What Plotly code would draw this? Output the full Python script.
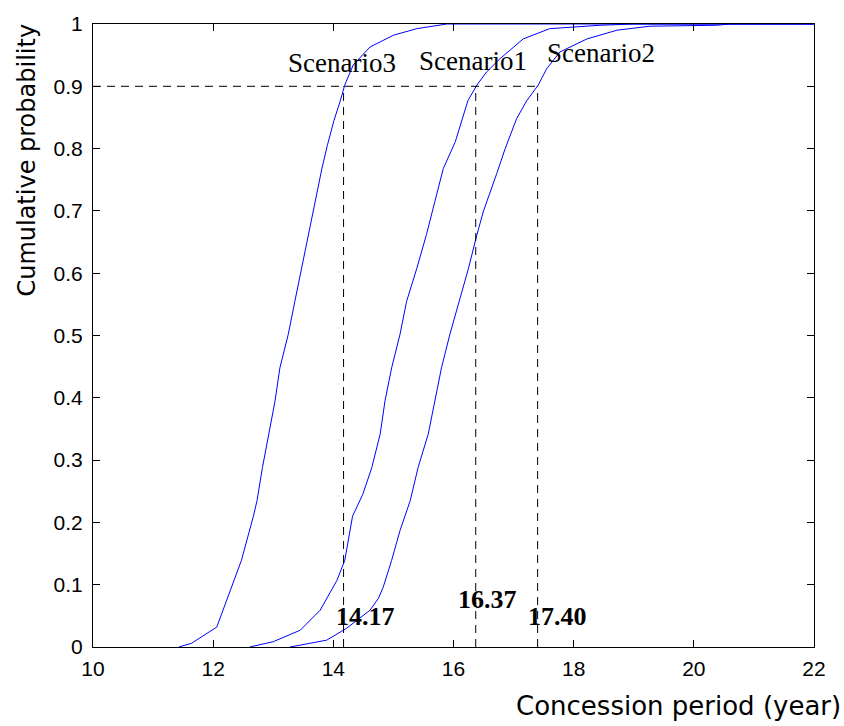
import plotly.graph_objects as go

# Scenario CDF curves
s3_x = [11.43, 11.64, 12.06, 12.22, 12.47, 12.67, 12.73, 12.82, 12.93, 13.03, 13.11, 13.25, 13.36,
        13.47, 13.58, 13.70, 13.81, 13.90, 14.01, 14.11, 14.19, 14.33, 14.61, 15.0, 15.39, 15.89, 22.0]
s3_y = [0.0, 0.006, 0.032, 0.075, 0.139, 0.21, 0.235, 0.288, 0.342, 0.395, 0.448, 0.502, 0.555,
        0.608, 0.662, 0.715, 0.768, 0.805, 0.845, 0.875, 0.902, 0.934, 0.963, 0.982, 0.9925, 1.0, 1.0]

s1_x = [12.61, 13.0, 13.45, 13.78, 14.06, 14.19, 14.32, 14.49, 14.64, 14.78, 14.86, 14.97, 15.11,
        15.22, 15.39, 15.55, 15.69, 15.83, 16.03, 16.16, 16.24, 16.39, 16.55, 16.77, 17.16, 17.6,
        18.44, 19.0, 22.0]
s1_y = [0.0, 0.0085, 0.027, 0.059, 0.107, 0.139, 0.21, 0.245, 0.288, 0.342, 0.395, 0.448, 0.502,
        0.555, 0.608, 0.662, 0.715, 0.768, 0.811, 0.854, 0.877, 0.902, 0.923, 0.944, 0.976, 0.9925,
        0.998, 1.0, 1.0]

s2_x = [13.28, 13.89, 14.22, 14.61, 14.75, 14.83, 14.97, 15.11, 15.28, 15.41, 15.58, 15.69, 15.80,
        15.94, 16.10, 16.25, 16.39, 16.50, 16.72, 16.86, 17.05, 17.22, 17.41, 17.55, 17.77, 18.22,
        18.72, 19.27, 20.38, 20.6, 22.0]
s2_y = [0.0, 0.011, 0.03, 0.059, 0.078, 0.096, 0.139, 0.187, 0.235, 0.288, 0.342, 0.395, 0.448,
        0.502, 0.555, 0.608, 0.662, 0.7, 0.76, 0.8, 0.848, 0.877, 0.902, 0.928, 0.955, 0.976,
        0.99, 0.9965, 0.998, 1.0, 1.0]

# 90% quantiles
q_level = 0.9
q_values = [14.17, 16.37, 17.40]
q_labels = ["14.17", "16.37", "17.40"]
q_label_pos = [(14.527, 0.049), (16.558, 0.076), (17.723, 0.049)]

scen_names = ["Scenario3", "Scenario1", "Scenario2"]
scen_label_pos = [(14.15, 0.937), (16.32, 0.94), (18.45, 0.953)]

x_ticks = [10, 12, 14, 16, 18, 20, 22]
y_ticks = [0, 0.1, 0.2, 0.3, 0.4, 0.5, 0.6, 0.7, 0.8, 0.9, 1]
y_tick_text = ["0", "0.1", "0.2", "0.3", "0.4", "0.5", "0.6", "0.7", "0.8", "0.9", "1"]

fig = go.Figure()

blue = "rgb(0,0,255)"
for xs, ys in [(s3_x, s3_y), (s1_x, s1_y), (s2_x, s2_y)]:
    fig.add_trace(go.Scatter(x=xs, y=ys, mode="lines", line=dict(color=blue, width=1),
                             showlegend=False, hoverinfo="skip"))

# dashed guide lines
dash = "8px,6px"
fig.add_trace(go.Scatter(x=[10, max(q_values)], y=[q_level, q_level], mode="lines",
                         line=dict(color="black", width=1, dash=dash), showlegend=False))
for q in q_values:
    fig.add_trace(go.Scatter(x=[q, q], y=[0, q_level], mode="lines",
                             line=dict(color="black", width=1, dash=dash), showlegend=False))

for name, (ax, ay) in zip(scen_names, scen_label_pos):
    fig.add_annotation(x=ax, y=ay, xref="x", yref="y", text=name, showarrow=False,
                       font=dict(family="Liberation Serif", size=27, color="black"))
for lab, (ax, ay) in zip(q_labels, q_label_pos):
    fig.add_annotation(x=ax, y=ay, xref="x", yref="y", text="<b>" + lab + "</b>", showarrow=False,
                       font=dict(family="Liberation Serif", size=26, color="black"))

# axis titles placed as annotations
fig.add_annotation(x=1.0 + (843 - 814) / 721.0, y=-(706 - 647) / 625.0, xref="paper", yref="paper",
                   text="Concession period (year)", showarrow=False, xanchor="right", yanchor="middle",
                   font=dict(family="DejaVu Sans", size=26, color="black"))
fig.add_annotation(x=-(93 - 27) / 721.0, y=(647 - 159) / 625.0, xref="paper", yref="paper",
                   text="Cumulative probability", textangle=-90, showarrow=False,
                   xanchor="center", yanchor="middle",
                   font=dict(family="DejaVu Sans", size=24, color="black"))

fig.update_layout(
    width=844, height=726,
    margin=dict(l=93, r=30, t=22, b=79),
    plot_bgcolor="white", paper_bgcolor="white",
    font=dict(family="Liberation Sans", size=20, color="black"),
)
fig.update_xaxes(range=[10, 22], tickvals=x_ticks, ticks="inside", ticklen=7, tickcolor="black",
                 showline=True, linecolor="black", linewidth=1, mirror="ticks", showgrid=False,
                 zeroline=False, tickfont=dict(size=21), ticklabelstandoff=3)
fig.update_yaxes(range=[0, 1], tickvals=y_ticks, ticktext=y_tick_text, ticks="inside", ticklen=7,
                 tickcolor="black", showline=True, linecolor="black", linewidth=1, mirror="ticks",
                 showgrid=False, zeroline=False, tickfont=dict(size=21), ticklabelstandoff=5)

fig.write_html("out.html")
